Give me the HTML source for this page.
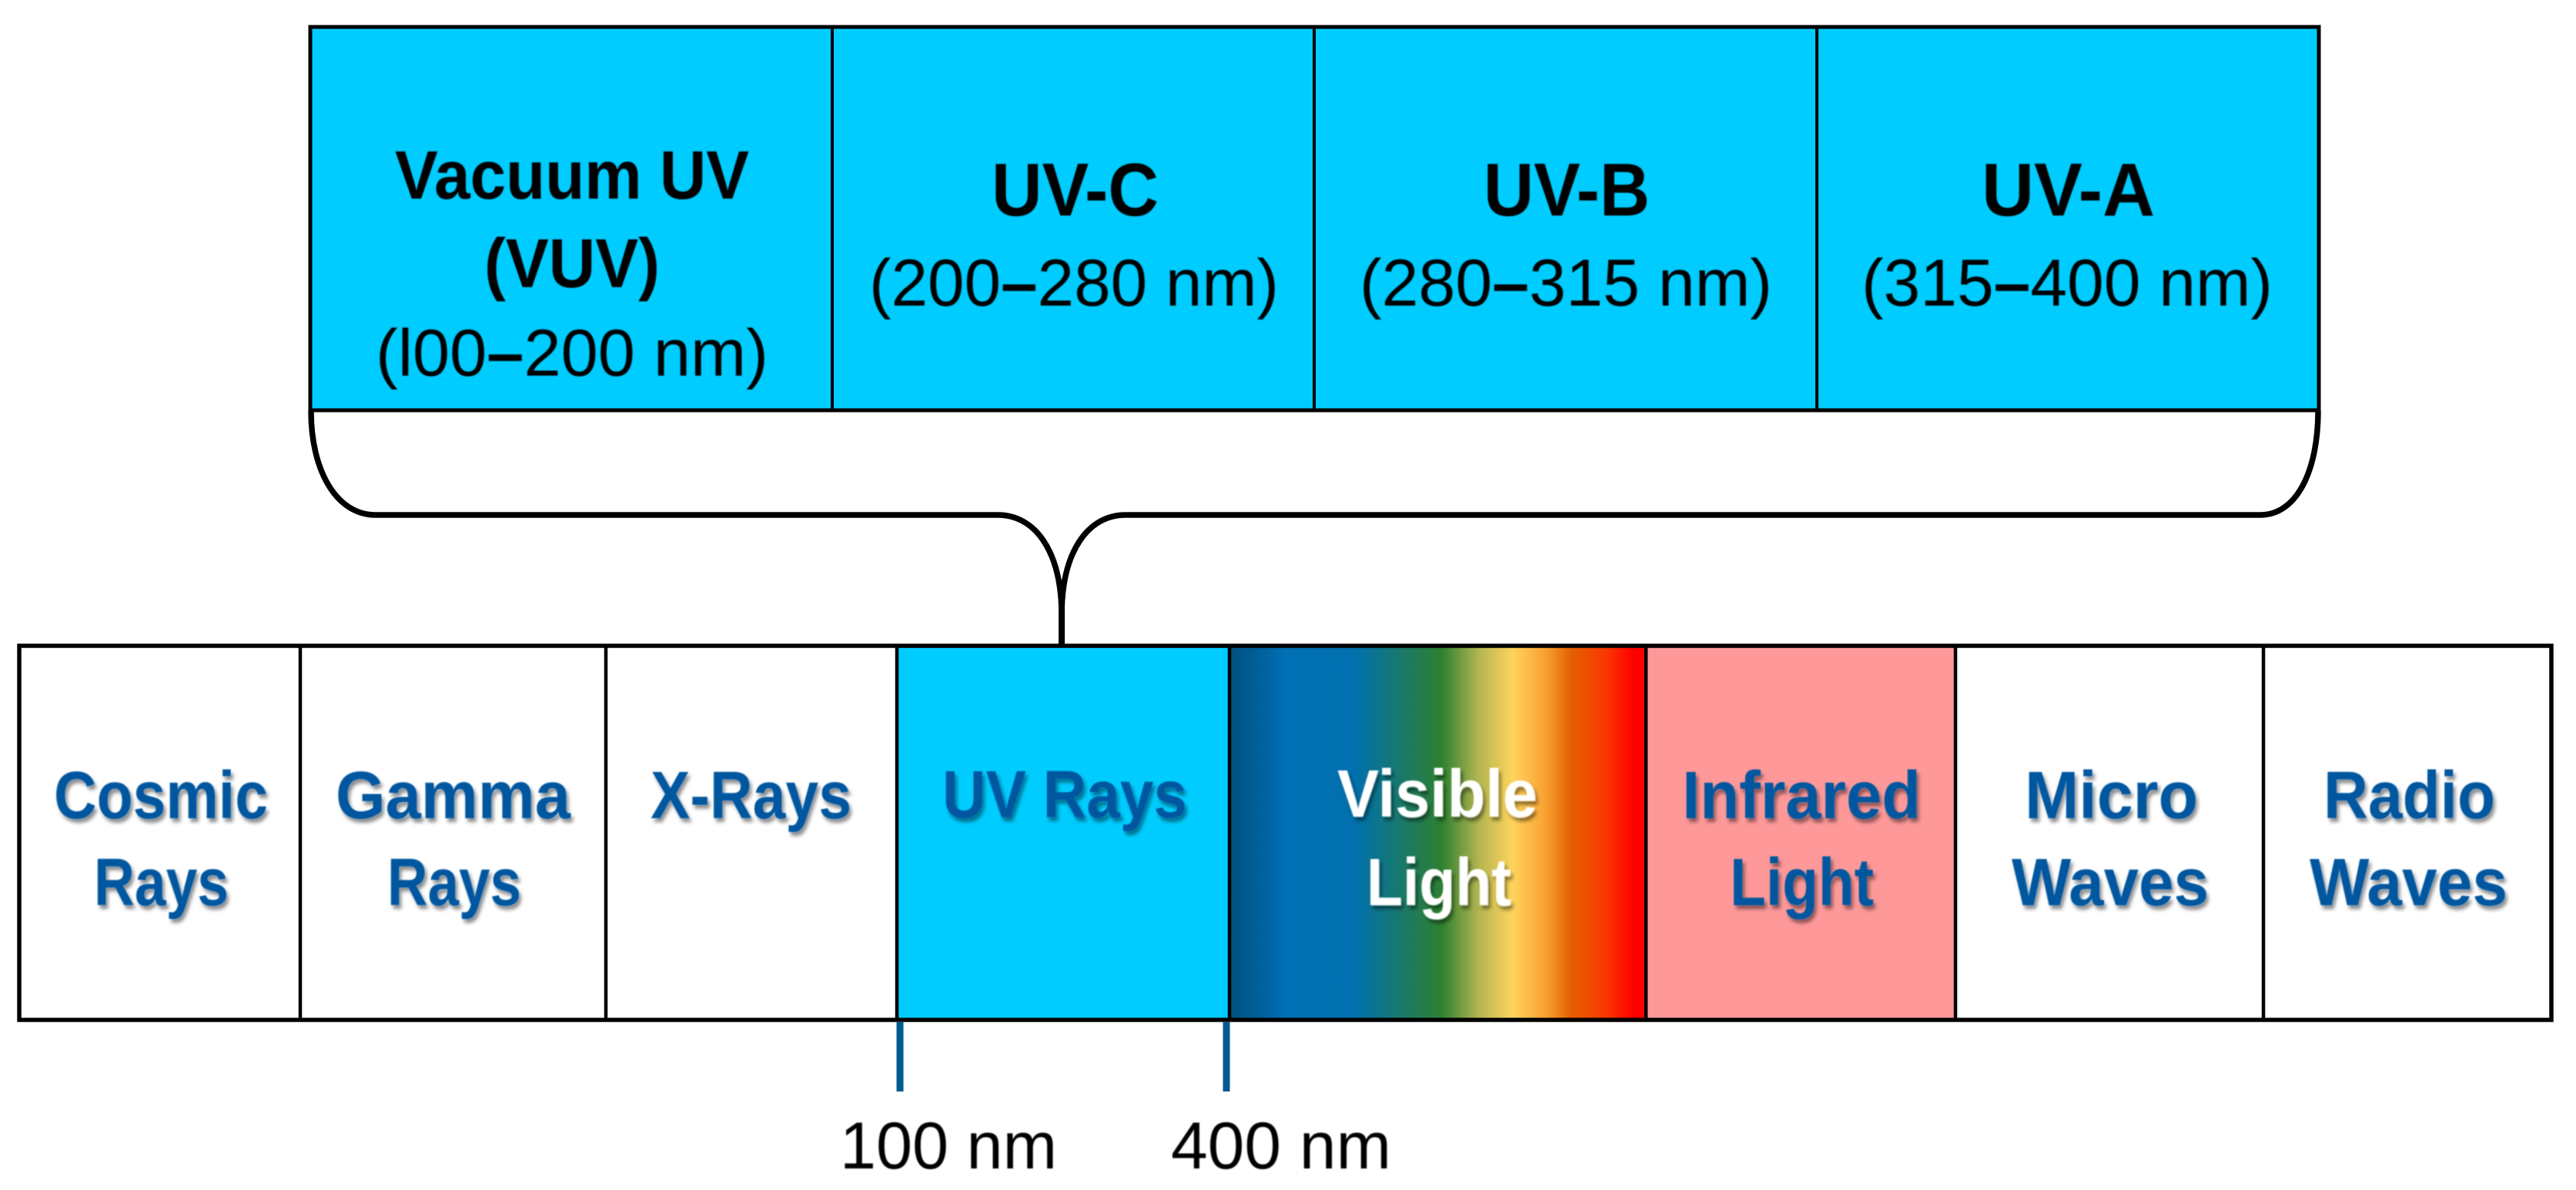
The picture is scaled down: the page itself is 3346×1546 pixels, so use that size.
<!DOCTYPE html>
<html lang="en">
<head>
<meta charset="utf-8">
<title>Electromagnetic spectrum with UV subdivisions</title>
<style>
html,body{margin:0;padding:0;background:#fff;width:3346px;height:1546px;overflow:hidden}
svg{display:block}
text{font-family:"Liberation Sans",sans-serif}
.h{font-weight:700;fill:#000}
.r{font-weight:400;fill:#000}
.b{font-weight:700;fill:#00569f;font-size:87px}
.w{font-weight:700;fill:#fff;font-size:87px}
.line{stroke:#000;fill:none}
</style>
</head>
<body>
<svg xmlns="http://www.w3.org/2000/svg" width="3346" height="1546" viewBox="0 0 3346 1546">
  <defs>
    <linearGradient id="vis" x1="0" y1="0" x2="1" y2="0">
      <stop offset="0" stop-color="#00507f"/>
      <stop offset=".14" stop-color="#0070b6"/>
      <stop offset=".30" stop-color="#0070ae"/>
      <stop offset=".51" stop-color="#2e8030"/>
      <stop offset=".60" stop-color="#b4b650"/>
      <stop offset=".68" stop-color="#ffd45c"/>
      <stop offset=".76" stop-color="#f8a030"/>
      <stop offset=".82" stop-color="#e46000"/>
      <stop offset=".90" stop-color="#f83a00"/>
      <stop offset=".97" stop-color="#ff0000"/>
      <stop offset="1" stop-color="#ff0000"/>
    </linearGradient>
    <filter id="sh" x="-10%" y="-20%" width="120%" height="150%">
      <feGaussianBlur in="SourceGraphic" stdDeviation="0.9" result="t"/>
      <feDropShadow in="t" dx="3" dy="5" stdDeviation="2.5" flood-color="#000" flood-opacity=".45"/>
    </filter>
    <filter id="soft"><feGaussianBlur stdDeviation="0.7"/></filter>
  </defs>

  <!-- UV sub-band boxes -->
  <g>
    <rect x="403" y="35" width="678" height="498" fill="#00ccff"/>
    <rect x="1081" y="35" width="626" height="498" fill="#00ccff"/>
    <rect x="1707" y="35" width="653" height="498" fill="#00ccff"/>
    <rect x="2360" y="35" width="652" height="498" fill="#00ccff"/>
    <rect x="403" y="35" width="2609" height="498" class="line" stroke-width="5"/>
    <path d="M1081 35V533M1707 35V533M2360 35V533" class="line" stroke-width="4"/>
  </g>
  <g filter="url(#soft)">
    <text class="h" x="513" y="258" font-size="89" textLength="460" lengthAdjust="spacingAndGlyphs">Vacuum UV</text>
    <text class="h" x="629" y="373" font-size="90" textLength="228" lengthAdjust="spacingAndGlyphs">(VUV)</text>
    <text class="r" x="488" y="488" font-size="86" textLength="510" lengthAdjust="spacingAndGlyphs">(l00<tspan font-weight="700">–</tspan>200 nm)</text>
    <text class="h" x="1288" y="280" font-size="97" textLength="217" lengthAdjust="spacingAndGlyphs">UV-C</text>
    <text class="r" x="1129" y="397" font-size="86" textLength="532" lengthAdjust="spacingAndGlyphs">(200<tspan font-weight="700">–</tspan>280 nm)</text>
    <text class="h" x="1927" y="280" font-size="97" textLength="216" lengthAdjust="spacingAndGlyphs">UV-B</text>
    <text class="r" x="1766" y="397" font-size="86" textLength="536" lengthAdjust="spacingAndGlyphs">(280<tspan font-weight="700">–</tspan>315 nm)</text>
    <text class="h" x="2574" y="280" font-size="97" textLength="225" lengthAdjust="spacingAndGlyphs">UV-A</text>
    <text class="r" x="2418" y="397" font-size="86" textLength="534" lengthAdjust="spacingAndGlyphs">(315<tspan font-weight="700">–</tspan>400 nm)</text>
  </g>

  <!-- Brace -->
  <path d="M404 534C404 610 436 669 488 669H1296C1344 669 1379 715 1379 800C1379 715 1414 669 1462 669H2936C2984 669 3011 610 3011 534" class="line" stroke-width="7.5"/>
  <path d="M1379 765V843" class="line" stroke-width="8"/>

  <!-- Spectrum strip -->
  <g>
    <rect x="25" y="839" width="3289" height="486" fill="#fff"/>
    <rect x="1165" y="839" width="432" height="486" fill="#00ccff"/>
    <rect x="1597" y="839" width="541" height="486" fill="url(#vis)"/>
    <rect x="2138" y="839" width="402" height="486" fill="#ff9999"/>
    <rect x="25" y="839" width="3289" height="486" class="line" stroke-width="5.5"/>
    <path d="M390 839V1325M787 839V1325M1165 839V1325M1597 839V1325M2138 839V1325M2540 839V1325M2940 839V1325" class="line" stroke-width="4.5"/>
  </g>
  <g filter="url(#sh)">
    <text class="b" x="70" y="1063" textLength="278" lengthAdjust="spacingAndGlyphs">Cosmic</text>
    <text class="b" x="122" y="1176" textLength="175" lengthAdjust="spacingAndGlyphs">Rays</text>
    <text class="b" x="436" y="1063" textLength="305" lengthAdjust="spacingAndGlyphs">Gamma</text>
    <text class="b" x="503" y="1176" textLength="174" lengthAdjust="spacingAndGlyphs">Rays</text>
    <text class="b" x="845" y="1063" textLength="261" lengthAdjust="spacingAndGlyphs">X-Rays</text>
    <text class="b" x="1224" y="1062" textLength="318" lengthAdjust="spacingAndGlyphs">UV Rays</text>
    <text class="w" x="1737" y="1061" textLength="260" lengthAdjust="spacingAndGlyphs">Visible</text>
    <text class="w" x="1775" y="1176" textLength="188" lengthAdjust="spacingAndGlyphs">Light</text>
    <text class="b" x="2185" y="1063" textLength="310" lengthAdjust="spacingAndGlyphs">Infrared</text>
    <text class="b" x="2247" y="1176" textLength="187" lengthAdjust="spacingAndGlyphs">Light</text>
    <text class="b" x="2630" y="1063" textLength="225" lengthAdjust="spacingAndGlyphs">Micro</text>
    <text class="b" x="2613" y="1176" textLength="256" lengthAdjust="spacingAndGlyphs">Waves</text>
    <text class="b" x="3018" y="1063" textLength="223" lengthAdjust="spacingAndGlyphs">Radio</text>
    <text class="b" x="3000" y="1176" textLength="257" lengthAdjust="spacingAndGlyphs">Waves</text>
  </g>

  <!-- Wavelength ticks -->
  <path d="M1169 1328V1418" stroke="#005a8e" stroke-width="9" fill="none"/>
  <path d="M1593 1328V1418" stroke="#005a8e" stroke-width="9" fill="none"/>
  <g filter="url(#soft)">
    <text class="r" x="1091" y="1518" font-size="86" textLength="282" lengthAdjust="spacingAndGlyphs">100 nm</text>
    <text class="r" x="1521" y="1518" font-size="86" textLength="286" lengthAdjust="spacingAndGlyphs">400 nm</text>
  </g>
</svg>
</body>
</html>
